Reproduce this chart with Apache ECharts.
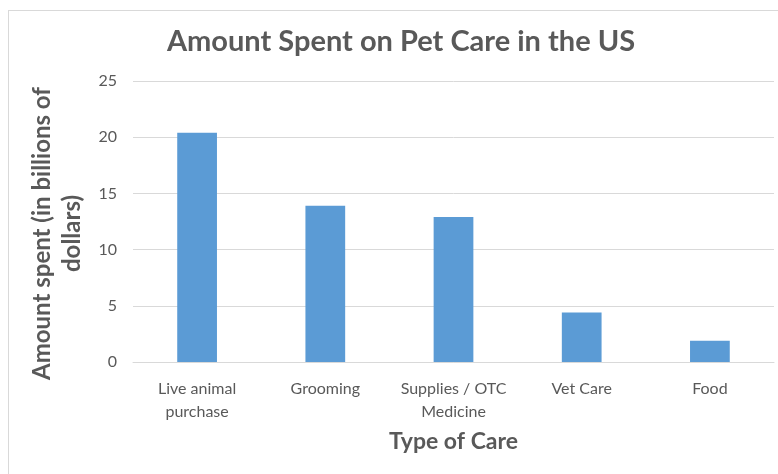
<!DOCTYPE html>
<html>
<head>
<meta charset="utf-8">
<script src="https://cdn.jsdelivr.net/npm/echarts@6/dist/echarts.min.js"></script>
<style>
  html, body { margin: 0; padding: 0; background: #fff; }
  #wrap { position: absolute; left: 8px; top: 10px; width: 776px; height: 470px; border: 1px solid #d9d9d9; box-sizing: border-box; }
  #chart { position: absolute; left: 0; top: 0; width: 778px; height: 474px; }
</style>
</head>
<body>
<div id="wrap"></div>
<div id="chart"></div>
<script>
// categories and values
const careTypes = ["Live animal\npurchase", "Grooming", "Supplies / OTC\nMedicine", "Vet Care", "Food"];
const amountSpent = [20.4, 13.9, 12.9, 4.4, 1.9];

const chart = echarts.init(document.getElementById("chart"));

const textColor = "#595959";
const font = "Lato, 'Open Sans', sans-serif";

const option = {
  title: {
    text: "Amount Spent on Pet Care in the US",
    left: 396,
    textAlign: "center",
    top: 22,
    textStyle: { fontFamily: font, fontSize: 29, fontWeight: "bold", color: textColor },
  },
  grid: { left: 133, right: 4, top: 81, bottom: 112, containLabel: false },
  xAxis: {
    type: "category",
    data: careTypes,
    name: "Type of Care",
    nameLocation: "middle",
    nameGap: 68,
    nameTextStyle: { fontFamily: font, fontSize: 23, fontWeight: "bold", color: textColor },
    axisLine: { lineStyle: { color: "#d9d9d9" } },
    axisTick: { show: false },
    axisLabel: { interval: 0, color: textColor, fontFamily: font, fontSize: 16, lineHeight: 23, margin: 15 },
  },
  yAxis: {
    type: "value",
    min: 0,
    max: 25,
    interval: 5,
    name: "Amount spent (in billions of\ndollars)",
    nameLocation: "middle",
    nameGap: 44,
    nameTextStyle: {
      fontFamily: font, fontSize: 24, fontWeight: "bold", color: textColor,
      lineHeight: 30, padding: [0, 24, 0, 0],
    },
    axisLine: { show: false },
    axisTick: { show: false },
    axisLabel: { color: textColor, fontFamily: font, fontSize: 16, margin: 16 },
    splitLine: { lineStyle: { color: "#d9d9d9" } },
  },
  series: [
    {
      type: "bar",
      data: amountSpent,
      barWidth: "31%",
      itemStyle: { color: "#5b9bd5" },
    },
  ],
};

chart.setOption(option);
</script>
</body>
</html>
